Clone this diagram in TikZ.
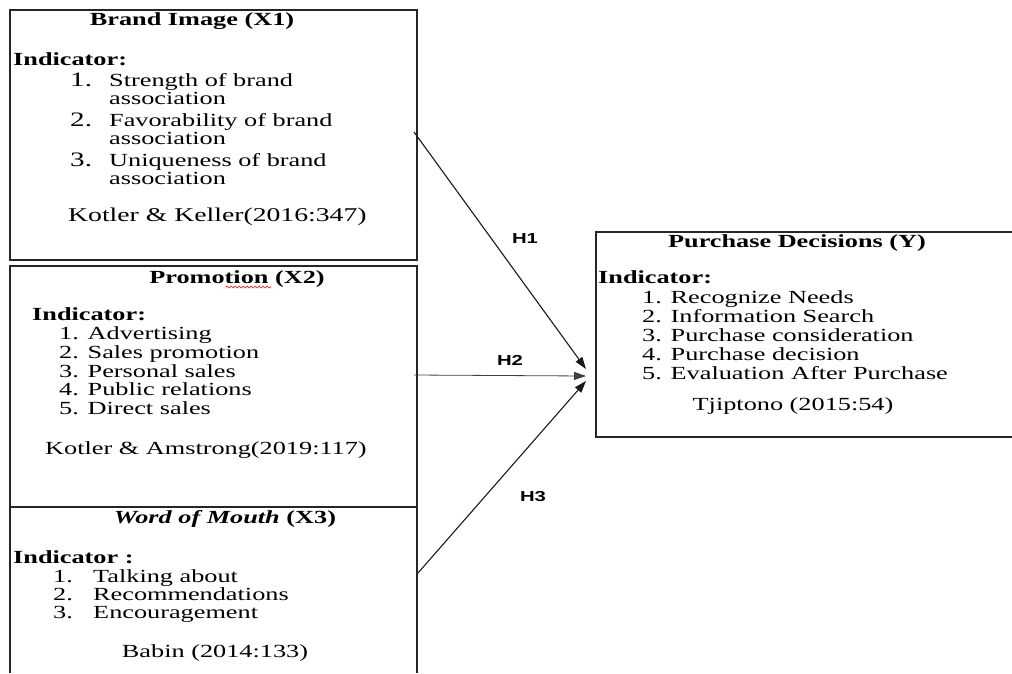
\documentclass[tikz,border=0pt]{standalone}
\usepackage{fontspec}
\setmainfont{Liberation Serif}[FakeStretch=1.42]
\newfontfamily\hfont{Liberation Sans}[FakeStretch=1.4]
\usetikzlibrary{arrows.meta,decorations.pathmorphing}
\begin{document}
\begin{tikzpicture}[x=1pt,y=-1pt,
  box/.style={line width=1.2pt, draw=black!85},
  lt/.style={anchor=base west, inner sep=0pt, font=\fontsize{18.5}{20}\selectfont},
  ltsm/.style={anchor=base west, inner sep=0pt, font=\fontsize{18.5}{20}\selectfont},
  numb/.style={anchor=base west, inner sep=0pt, font=\fontsize{20.5}{22}\selectfont},
  ct/.style={anchor=base, inner sep=0pt, font=\fontsize{18.5}{20}\selectfont},
  ttl/.style={anchor=base, inner sep=0pt, font=\fontsize{18.5}{20}\selectfont\bfseries},
  ind/.style={anchor=base west, inner sep=0pt, font=\fontsize{18.5}{20}\selectfont\bfseries},
  conn/.style={line width=1.1pt, draw=black!90, -{Triangle[length=12pt,width=8pt]}},
  hl/.style={inner sep=0pt, font=\hfont\bfseries\fontsize{14.5}{16}\selectfont}]
\useasboundingbox (0,0) rectangle (1012,673);

% boxes
\draw[box] (10,10) rectangle (417,260);
\draw[box] (10,266) rectangle (417,507);
\draw[box] (10,673) -- (10,507) -- (417,507) -- (417,673);
\draw[box] (1013,232) -- (596,232) -- (596,437) -- (1013,437);

% Box 1
\node[ttl] (t1) at (192,25) {Brand Image (X1)};
\node[ind] (i1) at (13,65) {Indicator:};
\node[numb] (n11) at (70,86) {1.};
\node[lt] (a11) at (109,86) {Strength of brand};
\node[lt] (a12) at (109,104) {association};
\node[numb] (n12) at (70,126) {2.};
\node[lt] (a13) at (109,126) {Favorability of brand};
\node[lt] (a14) at (109,144) {association};
\node[numb] (n13) at (70,166) {3.};
\node[lt] (a15) at (109,166) {Uniqueness of brand};
\node[lt] (a16) at (109,184) {association};
\node[lt, font=\fontsize{19.5}{21}\selectfont] (r1) at (68,221) {Kotler \& Keller(2016:347)};

% Box 2
\node[ttl] (t2) at (237,283) {Promotion (X2)};
\draw[red, line width=0.6pt, decorate, decoration={snake, amplitude=1pt, segment length=4pt}]
  (226,287) -- (271,287);
\node[ind] (i2) at (32,320) {Indicator:};
\node[lt] (b21) at (59,339) {1. Advertising};
\node[lt] (b22) at (59,358) {2. Sales promotion};
\node[lt] (b23) at (59,377) {3. Personal sales};
\node[lt] (b24) at (59,395) {4. Public relations};
\node[lt] (b25) at (59,414) {5. Direct sales};
\node[lt] (r2) at (45,454) {Kotler \& Amstrong(2019:117)};

% Box 3
\node[ttl] (t3) at (225,523) {\textit{Word of Mouth} (X3)};
\node[ind] (i3) at (13,563) {Indicator :};
\node[lt] (n31) at (53,582) {1.};
\node[lt] (c31) at (93,582) {Talking about};
\node[lt] (n32) at (53,600) {2.};
\node[lt] (c32) at (93,600) {Recommendations};
\node[lt] (n33) at (53,618) {3.};
\node[lt] (c33) at (93,618) {Encouragement};
\node[ct] (r3) at (215,657) {Babin (2014:133)};

% Box Y
\node[ttl] (ty) at (797,247) {Purchase Decisions (Y)};
\node[ind] (iy) at (598,283) {Indicator:};
\node[ltsm] (y1) at (642,303) {1. Recognize Needs};
\node[ltsm] (y2) at (642,322) {2. Information Search};
\node[ltsm] (y3) at (642,341) {3. Purchase consideration};
\node[ltsm] (y4) at (642,360) {4. Purchase decision};
\node[ltsm] (y5) at (642,379) {5. Evaluation After Purchase};
\node[ct] (ry) at (793,410) {Tjiptono (2015:54)};

% connectors
\coordinate (s1) at (414,132);
\coordinate (s2) at (414,375);
\coordinate (s3) at (418,573);
\coordinate (e1) at (586,369);
\coordinate (e2) at (586,376);
\coordinate (e3) at (586,381);
\draw[conn] (s1) -- (e1);
\draw[conn, line width=0.8pt, draw=black!75] (s2) -- (e2);
\draw[conn] (s3) -- (e3);

\node[hl] (h1) at (525,239) {H1};
\node[hl] (h2) at (510,360) {H2};
\node[hl] (h3) at (533,497) {H3};
\end{tikzpicture}
\end{document}
